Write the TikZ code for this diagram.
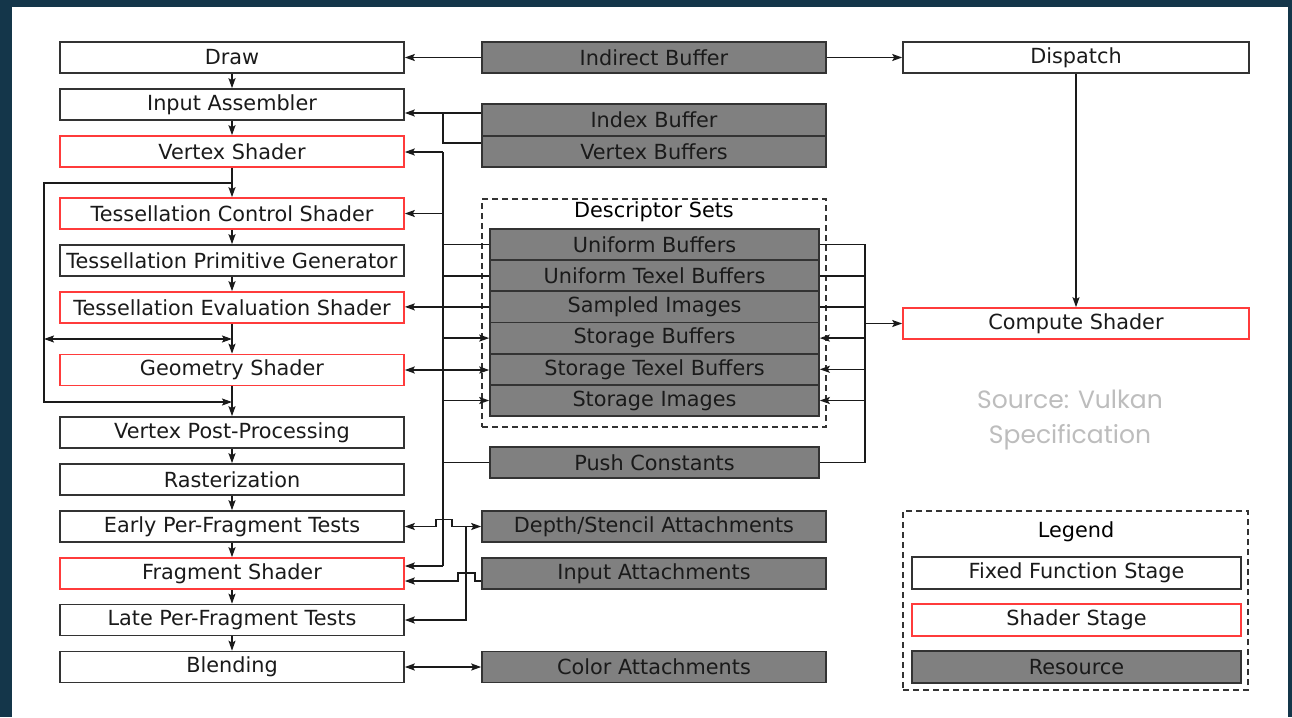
\documentclass[tikz,border=0pt]{standalone}
\usepackage{fontspec}
\setmainfont{DejaVu Sans}
\newfontfamily\srcfont{Poppins}
\usepackage{tikz}
\usetikzlibrary{calc,positioning,arrows.meta}
\definecolor{colorfx}{HTML}{333333}
\definecolor{colorsh}{HTML}{FF3B3B}
\definecolor{colorrs}{HTML}{808080}
\definecolor{colorbg}{HTML}{14364A}
\definecolor{colorsrc}{HTML}{BDBDBD}
\definecolor{colortx}{HTML}{1A1A1A}
\tikzset{
  stagefx/.style={draw=colorfx, fill=white, text=colortx, minimum width=344pt, minimum height=31pt},
  stagesh/.style={stagefx, draw=colorsh},
  resbox/.style={draw=colorfx, fill=colorrs, text=colortx, minimum width=344pt, minimum height=31pt},
  setres/.style={resbox, minimum width=329pt},
  setbox/.style={draw=colorfx, dash pattern=on 6pt off 4pt},
  edgeto/.style={colortx, -{Stealth[length=10pt,width=7pt,inset=2pt]}},
  edgeboth/.style={colortx, {Stealth[length=10pt,width=7pt,inset=2pt]}-{Stealth[length=10pt,width=7pt,inset=2pt]}},
  edgeline/.style={colortx}
}

\begin{document}
\begin{tikzpicture}[x=1pt, y=-1pt, inner sep=0pt, line width=1.6pt,
  font=\fontsize{20.8}{25}\selectfont]
\useasboundingbox (0,0) rectangle (1292,717);
\fill[colorbg] (0,0) rectangle (1292,717);
\fill[white] (12,7) rectangle (1288,717);

% pipeline stages
\node[stagefx] (drawcall) at (232,57.5) {Draw};
\node[stagefx] (ia) at (232,104.5) {Input Assembler};
\node[stagesh] (vs) at (232,151.5) {Vertex Shader};
\node[stagesh] (tcs) at (232,213.5) {Tessellation Control Shader};
\node[stagefx] (tpg) at (232,260.5) {Tessellation Primitive Generator};
\node[stagesh] (tes) at (232,307.5) {Tessellation Evaluation Shader};
\node[stagesh] (gs) at (232,370) {Geometry Shader};
\node[stagefx] (vpp) at (232,432.5) {Vertex Post-Processing};
\node[stagefx] (rast) at (232,479.5) {Rasterization};
\node[stagefx] (early) at (232,526.5) {Early Per-Fragment Tests};
\node[stagesh] (frag) at (232,573.5) {Fragment Shader};
\node[stagefx] (late) at (232,620) {Late Per-Fragment Tests};
\node[stagefx] (blend) at (232,667) {Blending};

% resources
\node[resbox] (indirect) at (654,57.5) {Indirect Buffer};
\node[resbox, minimum height=31.5pt] (index) at (654,120) {Index Buffer};
\node[resbox, minimum height=31.5pt] (vbuf) at (654,151.5) {Vertex Buffers};
\node[setbox, minimum width=344pt, minimum height=228pt] (dsets) at (654,313) {};
\node (dstitle) at (654,212) {Descriptor Sets};
\node[setres] (ub) at (654.5,244.5) {Uniform Buffers};
\node[setres] (utb) at (654.5,275.7) {Uniform Texel Buffers};
\node[setres] (si) at (654.5,306.9) {Sampled Images};
\node[setres] (sb) at (654.5,338.1) {Storage Buffers};
\node[setres] (stb) at (654.5,369.3) {Storage Texel Buffers};
\node[setres] (simg) at (654.5,400.5) {Storage Images};
\node[setres] (pc) at (654.5,462.5) {Push Constants};
\node[resbox] (ds) at (654,526.5) {Depth/Stencil Attachments};
\node[resbox] (inatt) at (654,573.5) {Input Attachments};
\node[resbox] (catt) at (654,667) {Color Attachments};

% compute side
\node[stagefx, minimum width=346pt] (dispatch) at (1076,57.5) {Dispatch};
\node[stagesh, minimum width=346pt] (cs) at (1076,323.5) {Compute Shader};
\node[text=colorsrc, align=center, font=\srcfont\fontsize{25}{35}\selectfont] (source) at (1070,420) {Source: Vulkan\\Specification};

% legend
\node[setbox, minimum width=345pt, minimum height=179pt] (legend) at (1075.5,600.5) {};
\node (legtitle) at (1076,532) {Legend};
\node[stagefx, minimum width=329pt, minimum height=32pt] (lfx) at (1076.5,573) {Fixed Function Stage};
\node[stagesh, minimum width=329pt, minimum height=32pt] (lsh) at (1076.5,620) {Shader Stage};
\node[resbox, minimum width=329pt, minimum height=32pt] (lrs) at (1076.5,667) {Resource};

% junctions
\coordinate (jidx) at (443,113);
\coordinate (ltop) at (443,152);
\coordinate (lbot) at (443,566);
\coordinate (rbus) at (865,0);
\coordinate (bt) at (232,183);
\coordinate (lloop) at (44,183);
\coordinate (bm) at (232,339);
\coordinate (bb) at (232,402);

% pipeline flow
\draw[edgeto] (drawcall) -- (ia);
\draw[edgeto] (ia) -- (vs);
\draw[edgeto] (vs) -- (tcs);
\draw[edgeto] (tcs) -- (tpg);
\draw[edgeto] (tpg) -- (tes);
\draw[edgeto] (tes) -- (gs);
\draw[edgeto] (gs) -- (vpp);
\draw[edgeto] (vpp) -- (rast);
\draw[edgeto] (rast) -- (early);
\draw[edgeto] (early) -- (frag);
\draw[edgeto] (frag) -- (late);
\draw[edgeto] (late) -- (blend);
\draw[edgeto] (bt) -- (lloop) |- (bb);
\draw[edgeboth] (bm -| lloop) -- (bm);

% indirect and compute
\draw[edgeto] (indirect) -- (drawcall);
\draw[edgeto] (indirect) -- (dispatch);
\draw[edgeto] (dispatch) -- (cs);

% vertex input
\draw[edgeto] ([yshift=7pt]index.west) -- (jidx) -- (jidx -| ia.east);
\draw[edgeline] ([yshift=8.5pt]vbuf.west) -| (jidx);

% left bus
\draw[edgeline] (ltop) -- (lbot);
\draw[edgeto] (ltop) -- (ltop -| vs.east);
\draw[edgeto] (ltop |- tcs.east) -- (tcs.east);
\draw[edgeline] (ub.west) -- (ub.west -| ltop);
\draw[edgeline] (utb.west) -- (utb.west -| ltop);
\draw[edgeto] (si.west) -- (si.west -| tes.east);
\draw[edgeto] (sb.west -| ltop) -- (sb.west);
\draw[edgeboth] (gs.east) -- (gs.east -| stb.west);
\draw[edgeto] (simg.west -| ltop) -- (simg.west);
\draw[edgeline] (pc.west) -- (pc.west -| ltop);
\draw[edgeto] (lbot) -- (lbot -| frag.east);

% right bus
\draw[edgeline] (ub.east) -- (ub.east -| rbus) -- (pc.east -| rbus) -- (pc.east);
\draw[edgeline] (utb.east) -- (utb.east -| rbus);
\draw[edgeline] (si.east) -- (si.east -| rbus);
\draw[edgeto] (sb.east -| rbus) -- (sb.east);
\draw[edgeto] (stb.east -| rbus) -- (stb.east);
\draw[edgeto] (simg.east -| rbus) -- (simg.east);
\draw[edgeto] (cs.west -| rbus) -- (cs.west);

% attachments
\draw[edgeboth] (early.east) -- ++(31,0) -- ++(0,-7) -- ++(16,0) -- ++(0,7) -- (ds.west);
\draw[edgeto] ([xshift=-15pt]ds.west) |- (late.east);
\draw[edgeto] ([yshift=-7.5pt]inatt.west) -- ++(-6,0) -- ++(0,-8) -- ++(-17,0) -- ++(0,8) -- ([yshift=-7.5pt]frag.east);
\draw[edgeboth] (blend) -- (catt);
\end{tikzpicture}
\end{document}
